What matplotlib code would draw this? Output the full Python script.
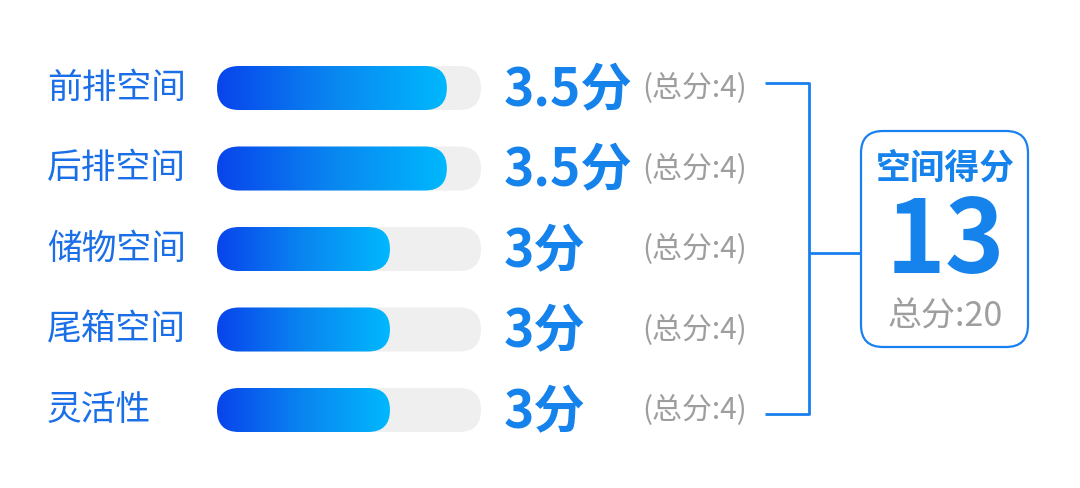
import matplotlib
matplotlib.use("Agg")
import matplotlib.pyplot as plt
import numpy as np
from matplotlib.patches import FancyBboxPatch
from matplotlib.transforms import IdentityTransform, blended_transform_factory
from matplotlib.colors import LinearSegmentedColormap

plt.rcParams['font.family'] = ['Noto Sans CJK SC', 'DejaVu Sans']

# ---- data ----
categories = ['前排空间', '后排空间', '储物空间', '尾箱空间', '灵活性']
scores = [3.5, 3.5, 3, 3, 3]
score_labels = ['3.5分', '3.5分', '3分', '3分', '3分']
max_labels = ['(总分:4)'] * 5
total_title = '空间得分'
total_score = 13
total_max_label = '总分:20'

# ---- styles ----
W, H = 1080, 488
BLUE_TXT = '#1a6fe8'
BLUE_SCORE = '#1682ec'
BLUE_LINE = '#1a80f0'
GRAY = '#9e9e9e'
TRACK = '#efefef'
grad = LinearSegmentedColormap.from_list('g', ['#0844ec', '#0a86f0', '#00b8fd'])

fig = plt.figure(figsize=(W / 100, H / 100), dpi=100)
fig.patch.set_facecolor('white')

# overlay axes in pixel coords for layout
ov = fig.add_axes([0, 0, 1, 1])
ov.set_xlim(0, W)
ov.set_ylim(H, 0)
ov.axis('off')

# bar axes: x in score units, y in row index
bx0, bx1 = 217, 481
row_top, row_bot = 47.75, 450.25
ax = fig.add_axes([bx0 / W, 1 - row_bot / H, (bx1 - bx0) / W, (row_bot - row_top) / H])
x_min, x_max = 1.48, 3.8
ylim = (len(categories) - 0.5, -0.5)
ax.set_xlim(x_min, x_max)
ax.set_ylim(*ylim)
ax.axis('off')

bar_h_px = 44
r_px = bar_h_px / 2

def capsule(x0d, x1d, yd, color, z):
    (px0, py), = ax.transData.transform([(x0d, yd)])
    (px1, _), = ax.transData.transform([(x1d, yd)])
    p = FancyBboxPatch((px0 + r_px, py), (px1 - px0) - 2 * r_px, 0,
                       boxstyle=f"round,pad={r_px}",
                       transform=IdentityTransform(), facecolor=color,
                       edgecolor='none', zorder=z, clip_on=False)
    ax.add_artist(p)
    return p

# build all capsules first (limits fixed)
tracks = [capsule(x_min, x_max, i, TRACK, 1) for i in range(len(categories))]
clips = [capsule(x_min, v, i, 'none', 2) for i, v in enumerate(scores)]

g = np.linspace(0, 1, 256).reshape(1, -1)
for i, v in enumerate(scores):
    im = ax.imshow(g, cmap=grad, aspect='auto', interpolation='bilinear',
                   extent=(x_min, v, i + 0.3, i - 0.3), zorder=3)
    im.set_clip_path(clips[i])
ax.set_xlim(x_min, x_max)
ax.set_ylim(*ylim)

tr = blended_transform_factory(ov.transData, ax.transData)
for i, cat in enumerate(categories):
    ax.text(47, i, cat, transform=tr, ha='left', va='center',
            fontsize=25, color=BLUE_TXT)
    ax.text(504, i + 0.03, score_labels[i], transform=tr, ha='left', va='center',
            fontsize=37, fontweight='bold', color=BLUE_SCORE)
    ax.text(642, i + 0.01, max_labels[i], transform=tr, ha='left', va='center',
            fontsize=21.5, color=GRAY)

# bracket
lw = 2.0
ov.plot([765, 809], [83, 83], color=BLUE_LINE, lw=lw, solid_capstyle='butt')
ov.plot([765, 809], [414, 414], color=BLUE_LINE, lw=lw, solid_capstyle='butt')
ov.plot([809, 809], [82.3, 414.7], color=BLUE_LINE, lw=lw, solid_capstyle='butt')
ov.plot([809, 860], [253, 253], color=BLUE_LINE, lw=lw, solid_capstyle='butt')

# total box
box = FancyBboxPatch((861 + 22, 131 + 22), 167 - 44, 216 - 44,
                     boxstyle="round,pad=22", facecolor='white',
                     edgecolor=BLUE_LINE, lw=1.6, zorder=3)
ov.add_patch(box)
ov.text(945, 168, total_title, ha='center', va='center', fontsize=25,
        fontweight='bold', color=BLUE_SCORE, zorder=4)
ov.text(945, 243, str(total_score), ha='center', va='center', fontsize=73,
        fontweight='bold', color=BLUE_SCORE, zorder=4)
ov.text(945, 317, total_max_label, ha='center', va='center', fontsize=24.5,
        color=GRAY, zorder=4)

fig.savefig('out.png', dpi=100, facecolor='white')
